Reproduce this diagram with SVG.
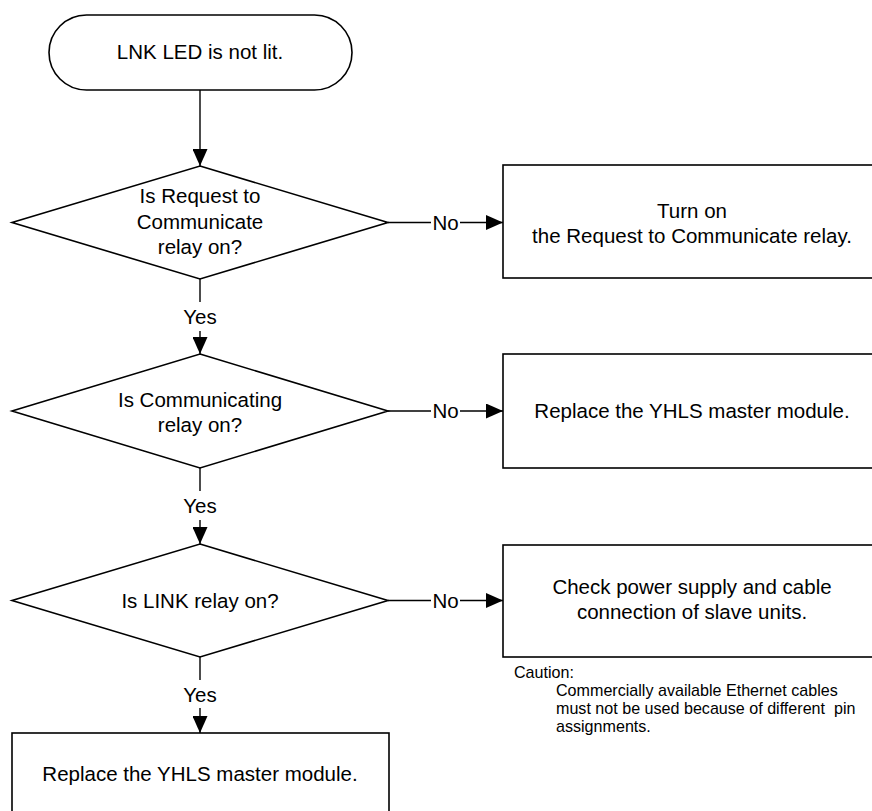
<svg xmlns="http://www.w3.org/2000/svg" width="872" height="811" viewBox="0 0 872 811">
<defs>
<style>
.shape{fill:#fff;stroke:#000;stroke-width:1.6}
.conn{fill:none;stroke:#000;stroke-width:1.4}
.t{font-family:"Liberation Sans",Arial,sans-serif;font-size:20.5px;fill:#000;text-anchor:middle}
.lbl{font-family:"Liberation Sans",Arial,sans-serif;font-size:20.5px;fill:#000;text-anchor:middle}
.note{font-family:"Liberation Sans",Arial,sans-serif;font-size:16.1px;fill:#000;white-space:pre}
.bg{fill:#fff;stroke:none}
</style>
<marker id="arr" markerUnits="userSpaceOnUse" markerWidth="17" markerHeight="15" viewBox="0 0 17 15" refX="17" refY="7.5" orient="auto">
<path d="M0,0 L17,7.5 L0,15 z" fill="#000"/>
</marker>
</defs>
<rect width="872" height="811" fill="#fff"/>

<g id="connectors">
<line class="conn" x1="200" y1="90" x2="200" y2="166" marker-end="url(#arr)"/>
<line class="conn" x1="200" y1="279" x2="200" y2="354" marker-end="url(#arr)"/>
<line class="conn" x1="200" y1="468" x2="200" y2="544" marker-end="url(#arr)"/>
<line class="conn" x1="200" y1="657" x2="200" y2="733" marker-end="url(#arr)"/>
<line class="conn" x1="388" y1="222.5" x2="503" y2="222.5" marker-end="url(#arr)"/>
<line class="conn" x1="388" y1="411" x2="503" y2="411" marker-end="url(#arr)"/>
<line class="conn" x1="388" y1="600.5" x2="503" y2="600.5" marker-end="url(#arr)"/>
<rect class="bg" x="185" y="302" width="30" height="29"/>
<text class="lbl" x="200" y="324">Yes</text>
<rect class="bg" x="185" y="491" width="30" height="29"/>
<text class="lbl" x="200" y="513">Yes</text>
<rect class="bg" x="185" y="680" width="30" height="28"/>
<text class="lbl" x="200" y="702">Yes</text>
<rect class="bg" x="431" y="212" width="29" height="22"/>
<text class="lbl" x="445.5" y="229.5">No</text>
<rect class="bg" x="431" y="400" width="29" height="22"/>
<text class="lbl" x="445.5" y="418">No</text>
<rect class="bg" x="431" y="590" width="29" height="22"/>
<text class="lbl" x="445.5" y="607.5">No</text>
</g>

<g id="start">
<rect class="shape" x="49" y="15" width="303" height="75" rx="37.5" ry="37.5"/>
<text class="t" x="200" y="59.3">LNK LED is not lit.</text>
</g>

<g id="decision1">
<polygon class="shape" points="200,166 388,222.5 200,279 12,222.5"/>
<text class="t" x="200" y="203.3">Is Request to</text>
<text class="t" x="200" y="229">Communicate</text>
<text class="t" x="200" y="254.3">relay on?</text>
</g>

<g id="action1">
<rect class="shape" x="503" y="165" width="378" height="113"/>
<text class="t" x="692" y="217.5">Turn on</text>
<text class="t" x="692" y="242.5">the Request to Communicate relay.</text>
</g>

<g id="decision2">
<polygon class="shape" points="200,354 388,411 200,468 12,411"/>
<text class="t" x="200" y="406.5">Is Communicating</text>
<text class="t" x="200" y="432">relay on?</text>
</g>

<g id="action2">
<rect class="shape" x="503" y="354" width="378" height="114"/>
<text class="t" x="692" y="418.3">Replace the YHLS master module.</text>
</g>

<g id="decision3">
<polygon class="shape" points="200,544 388,600.5 200,657 12,600.5"/>
<text class="t" x="200" y="607.7">Is LINK relay on?</text>
</g>

<g id="action3">
<rect class="shape" x="503" y="545" width="378" height="112"/>
<text class="t" x="692" y="594.3">Check power supply and cable</text>
<text class="t" x="692" y="619.3">connection of slave units.</text>
</g>

<g id="caution">
<text class="note" x="514" y="678">Caution:</text>
<text class="note" x="556" y="696">Commercially available Ethernet cables</text>
<text class="note" x="556" y="714" xml:space="preserve">must not be used because of different  pin</text>
<text class="note" x="556" y="732">assignments.</text>
</g>

<g id="action4">
<rect class="shape" x="12" y="733" width="377" height="84"/>
<text class="t" x="200" y="781">Replace the YHLS master module.</text>
</g>
</svg>
